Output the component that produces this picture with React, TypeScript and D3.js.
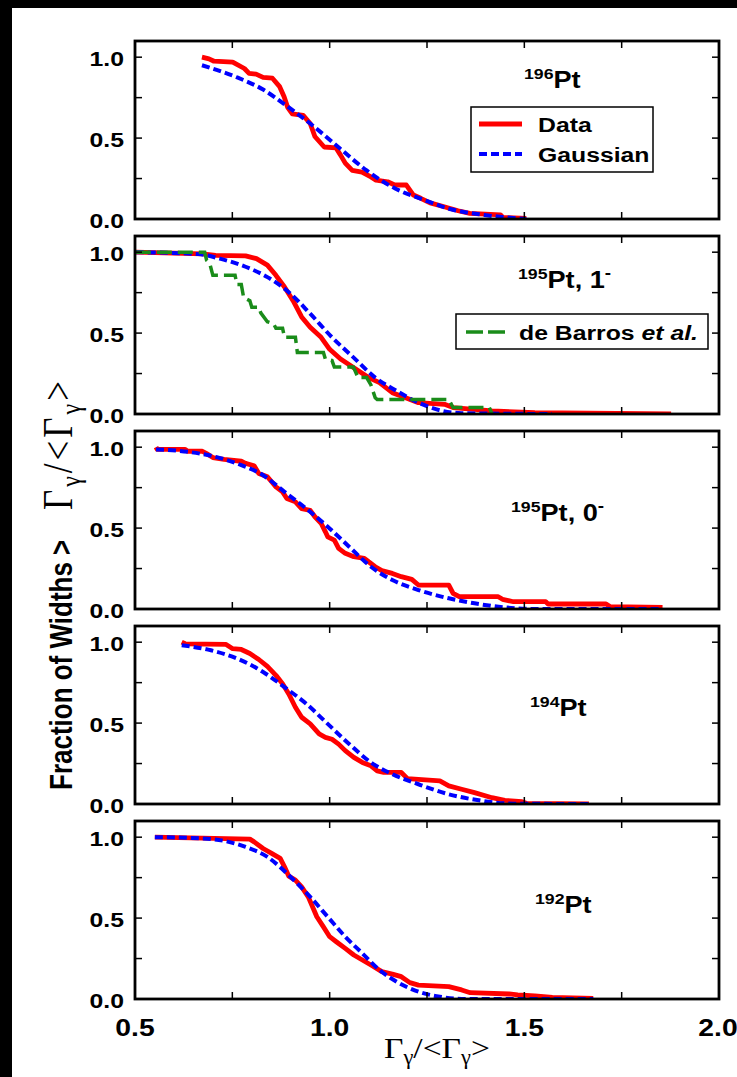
import React from 'react';
import * as d3 from 'd3';

const W = 737;
const H = 1077;
const S = 1.18; // horizontal glyph stretch seen in the reference

const xTickLabels = ['0.5', '1.0', '1.5', '2.0'];
const xTickValues = [0.5, 1.0, 1.5, 2.0];
const xMinorTicks = [0.75, 1.0, 1.25, 1.5, 1.75];
const yTickLabels = ['0.0', '0.5', '1.0'];
const yTickValues = [0.0, 0.5, 1.0];
const yMinorTicks = [0.25, 0.5, 0.75, 1.0];

const data196: [number, number][] = [[0.672,1.0],[0.69,0.99],[0.703,0.975],[0.751,0.97],[0.781,0.93],[0.793,0.90],[0.811,0.895],[0.829,0.875],[0.853,0.87],[0.871,0.82],[0.883,0.755],[0.892,0.69],[0.904,0.65],[0.932,0.64],[0.95,0.59],[0.962,0.51],[0.986,0.445],[1.016,0.44],[1.028,0.395],[1.04,0.345],[1.058,0.30],[1.083,0.29],[1.106,0.26],[1.119,0.24],[1.149,0.23],[1.167,0.21],[1.197,0.21],[1.215,0.148],[1.234,0.128],[1.258,0.10],[1.294,0.076],[1.33,0.051],[1.36,0.035],[1.439,0.025],[1.445,0.01],[1.505,0.004]];
const gauss196: [number, number][] = [[0.672,0.95],[0.757,0.88],[0.829,0.80],[0.889,0.70],[0.95,0.59],[1.022,0.445],[1.095,0.30],[1.167,0.19],[1.24,0.12],[1.312,0.06],[1.397,0.025],[1.505,0.0]];

const data195a: [number, number][] = [[0.502,1.0],[0.673,0.99],[0.707,0.98],[0.784,0.977],[0.812,0.96],[0.84,0.92],[0.862,0.857],[0.884,0.785],[0.906,0.70],[0.928,0.60],[0.95,0.536],[0.978,0.474],[1.0,0.40],[1.028,0.34],[1.061,0.288],[1.10,0.225],[1.128,0.194],[1.161,0.132],[1.195,0.10],[1.228,0.07],[1.295,0.06],[1.317,0.04],[1.417,0.019],[1.527,0.008],[1.877,0.0]];
const gauss195a: [number, number][] = [[0.502,1.0],[0.662,0.988],[0.718,0.96],[0.784,0.91],[0.84,0.846],[0.895,0.753],[0.95,0.62],[1.006,0.474],[1.061,0.35],[1.117,0.225],[1.172,0.143],[1.228,0.07],[1.283,0.023],[1.339,0.005],[1.571,0.0]];
const barros195: [number, number][] = [[0.502,1.0],[0.679,1.0],[0.684,0.95],[0.692,0.93],[0.70,0.857],[0.757,0.857],[0.762,0.80],[0.773,0.80],[0.779,0.72],[0.795,0.70],[0.80,0.66],[0.818,0.66],[0.823,0.625],[0.84,0.57],[0.856,0.557],[0.862,0.53],[0.879,0.53],[0.884,0.474],[0.912,0.474],[0.917,0.38],[0.984,0.38],[0.989,0.34],[1.006,0.33],[1.012,0.29],[1.061,0.29],[1.073,0.225],[1.095,0.225],[1.106,0.18],[1.117,0.10],[1.122,0.09],[1.306,0.09],[1.317,0.04],[1.41,0.04],[1.417,0.0]];

const data195b: [number, number][] = [[0.554,1.0],[0.557,0.986],[0.629,0.986],[0.635,0.975],[0.673,0.975],[0.684,0.96],[0.70,0.936],[0.729,0.924],[0.773,0.913],[0.784,0.90],[0.806,0.885],[0.818,0.837],[0.84,0.817],[0.851,0.786],[0.862,0.755],[0.879,0.724],[0.89,0.683],[0.912,0.662],[0.928,0.62],[0.95,0.61],[0.962,0.57],[0.978,0.53],[0.989,0.477],[0.995,0.446],[1.012,0.426],[1.023,0.375],[1.04,0.344],[1.062,0.323],[1.089,0.313],[1.10,0.292],[1.117,0.261],[1.134,0.237],[1.161,0.22],[1.184,0.20],[1.211,0.183],[1.228,0.148],[1.306,0.148],[1.317,0.097],[1.333,0.076],[1.433,0.076],[1.444,0.06],[1.472,0.045],[1.555,0.045],[1.561,0.031],[1.71,0.031],[1.721,0.014],[1.855,0.01]];
const gauss195b: [number, number][] = [[0.554,0.986],[0.64,0.97],[0.707,0.94],[0.773,0.889],[0.829,0.827],[0.884,0.724],[0.94,0.62],[0.995,0.508],[1.05,0.385],[1.106,0.261],[1.161,0.179],[1.228,0.117],[1.306,0.066],[1.372,0.035],[1.45,0.01],[1.527,0.0],[1.855,0.0]];

const data194: [number, number][] = [[0.62,1.0],[0.629,0.99],[0.734,0.986],[0.751,0.96],[0.773,0.955],[0.795,0.93],[0.818,0.893],[0.84,0.85],[0.862,0.795],[0.879,0.743],[0.895,0.68],[0.912,0.598],[0.928,0.536],[0.95,0.495],[0.973,0.433],[0.989,0.412],[1.006,0.40],[1.023,0.37],[1.04,0.33],[1.062,0.288],[1.084,0.257],[1.106,0.236],[1.122,0.205],[1.139,0.195],[1.184,0.195],[1.20,0.157],[1.283,0.143],[1.306,0.112],[1.339,0.091],[1.372,0.07],[1.417,0.039],[1.45,0.023],[1.494,0.014],[1.505,0.004],[1.666,0.0]];
const gauss194: [number, number][] = [[0.62,0.981],[0.695,0.95],[0.773,0.888],[0.829,0.816],[0.884,0.722],[0.94,0.619],[0.995,0.495],[1.05,0.371],[1.106,0.257],[1.161,0.184],[1.228,0.122],[1.306,0.06],[1.383,0.023],[1.472,0.002],[1.666,0.0]];

const data192: [number, number][] = [[0.551,1.0],[0.795,0.988],[0.806,0.971],[0.829,0.93],[0.851,0.90],[0.873,0.869],[0.884,0.817],[0.895,0.759],[0.912,0.735],[0.928,0.693],[0.945,0.631],[0.956,0.57],[0.967,0.508],[0.984,0.446],[1.0,0.385],[1.017,0.354],[1.04,0.313],[1.062,0.272],[1.084,0.241],[1.106,0.21],[1.134,0.169],[1.161,0.154],[1.184,0.138],[1.206,0.101],[1.228,0.086],[1.306,0.076],[1.339,0.056],[1.361,0.039],[1.461,0.031],[1.483,0.025],[1.527,0.019],[1.572,0.01],[1.677,0.004]];
const gauss192: [number, number][] = [[0.551,1.0],[0.673,0.992],[0.729,0.977],[0.784,0.94],[0.84,0.878],[0.895,0.765],[0.95,0.631],[0.995,0.508],[1.04,0.385],[1.084,0.282],[1.128,0.179],[1.172,0.107],[1.228,0.045],[1.283,0.014],[1.35,0.0],[1.677,0.0]];

const panelMass = ['196', '195', '195', '194', '192'];
const panelSuffix = ['', ', 1', ', 0', '', ''];
const panelSuffixSup = ['', '-', '-', '', ''];
const panelData = [data196, data195a, data195b, data194, data192];
const panelGauss = [gauss196, gauss195a, gauss195b, gauss194, gauss192];
const panelLabelPos: [number, number][] = [[524, 88], [518, 288], [511, 521], [530, 716], [535, 913]];

const legendLabels = ['Data', 'Gaussian', 'de Barros '];

const FONT = "'Liberation Sans', Arial, Helvetica, sans-serif";
const SERIF = "'Liberation Serif', 'Times New Roman', serif";
const RED = '#ff0000';
const BLUE = '#0000ff';
const GREEN = '#1a8c1a';

const x = d3.scaleLinear().domain([0.5, 2.0]).range([135, 719]);
const panelTop = (i: number) => 41 + i * 195;
const PH = 178;

function Panel({ i }: { i: number }) {
  const top = panelTop(i);
  const y = d3.scaleLinear().domain([0, 1.1]).range([top + PH, top]);
  const line = d3.line<[number, number]>().x(d => x(d[0])).y(d => y(d[1]));
  const smooth = d3.line<[number, number]>().x(d => x(d[0])).y(d => y(d[1])).curve(d3.curveMonotoneX);
  const clipId = `clip${i}`;
  const [lx, ly] = panelLabelPos[i];
  return (
    <g>
      <defs>
        <clipPath id={clipId}>
          <rect x={x(0.5)} y={top} width={x(2.0) - x(0.5)} height={PH} />
        </clipPath>
      </defs>
      <g clipPath={`url(#${clipId})`}>
        <path d={line(panelData[i]) || ''} fill="none" stroke={RED} strokeWidth={4.8} strokeLinejoin="round" />
        <path d={smooth(panelGauss[i]) || ''} fill="none" stroke={BLUE} strokeWidth={4} strokeDasharray="8,4" />
        {i === 1 && (
          <path d={line(barros195) || ''} fill="none" stroke={GREEN} strokeWidth={3.5} strokeDasharray="15,6" />
        )}
      </g>
      {xMinorTicks.map(t => (
        <g key={'xt' + t}>
          <line x1={x(t)} x2={x(t)} y1={top} y2={top + 7} stroke="#000" strokeWidth={1.5} />
          <line x1={x(t)} x2={x(t)} y1={top + PH} y2={top + PH - 7} stroke="#000" strokeWidth={1.5} />
        </g>
      ))}
      {yMinorTicks.map(t => (
        <g key={'yt' + t}>
          <line x1={x(0.5)} x2={x(0.5) + 7} y1={y(t)} y2={y(t)} stroke="#000" strokeWidth={1.5} />
          <line x1={x(2.0)} x2={x(2.0) - 7} y1={y(t)} y2={y(t)} stroke="#000" strokeWidth={1.5} />
        </g>
      ))}
      <rect x={x(0.5)} y={top} width={x(2.0) - x(0.5)} height={PH} fill="none" stroke="#000" strokeWidth={2.8} />
      {yTickValues.map((v, k) => (
        <text key={'yl' + k} transform={`translate(124,${y(v) + 9}) scale(${S},1)`} textAnchor="end"
          fontFamily={FONT} fontWeight="bold" fontSize={21} fill="#000">{yTickLabels[k]}</text>
      ))}
      <text transform={`translate(${lx},${ly}) scale(${S},1)`} fontFamily={FONT} fontWeight="bold" fill="#000">
        <tspan fontSize={15} dy={-9}>{panelMass[i]}</tspan>
        <tspan fontSize={23} dy={9}>{'Pt' + panelSuffix[i]}</tspan>
        {panelSuffixSup[i] && <tspan fontSize={16} dy={-10}>{panelSuffixSup[i]}</tspan>}
      </text>
      {i === 0 && (
        <g>
          <rect x={471} y={107} width={182} height={65} fill="#fff" stroke="#000" strokeWidth={1.5} />
          <line x1={479} x2={522} y1={124} y2={124} stroke={RED} strokeWidth={5} />
          <line x1={479} x2={522} y1={154} y2={154} stroke={BLUE} strokeWidth={4} strokeDasharray="8,4" />
          <text transform={`translate(538,132) scale(${S},1)`} fontFamily={FONT} fontWeight="bold" fontSize={21}>{legendLabels[0]}</text>
          <text transform={`translate(538,162) scale(${S},1)`} fontFamily={FONT} fontWeight="bold" fontSize={21}>{legendLabels[1]}</text>
        </g>
      )}
      {i === 1 && (
        <g>
          <rect x={456} y={314} width={252} height={35} fill="#fff" stroke="#000" strokeWidth={1.5} />
          <line x1={466} x2={505} y1={332} y2={332} stroke={GREEN} strokeWidth={3.5} strokeDasharray="17,5" />
          <text transform={`translate(519,340) scale(${S},1)`} fontFamily={FONT} fontWeight="bold" fontSize={21}>
            {legendLabels[2]}<tspan fontStyle="italic">et al.</tspan>
          </text>
        </g>
      )}
    </g>
  );
}

export default function App() {
  const panels = [0, 1, 2, 3, 4];
  const bottom = panelTop(4) + PH;
  return (
    <div style={{ position: 'absolute', left: 0, top: 0 }}>
      <svg width={W} height={H} viewBox={`0 0 ${W} ${H}`} style={{ display: 'block' }}>
        <rect x={0} y={0} width={W} height={H} fill="#000" />
        <rect x={12} y={8} width={W - 12} height={H - 8} fill="#fff" />
        {panels.map(i => <Panel key={i} i={i} />)}
        {xTickValues.map((v, k) => (
          <text key={'xl' + k} transform={`translate(${x(v) - (k === 3 ? 1 : 0)},${bottom + 37}) scale(${S},1)`} textAnchor="middle"
            fontFamily={FONT} fontWeight="bold" fontSize={24} fill="#000">{xTickLabels[k]}</text>
        ))}
        <text transform={`translate(384,1058) scale(1.12,1)`} fontFamily={SERIF} fontSize={30} fill="#000">
          Γ<tspan fontSize={20} dy={6}>γ</tspan><tspan dy={-6}>/&lt;Γ</tspan><tspan fontSize={20} dy={6}>γ</tspan><tspan dy={-6}>&gt;</tspan>
        </text>
        <g transform={`translate(72,0) scale(${S},1) rotate(-90)`}>
          <text x={-790} y={0} fontFamily={FONT} fontWeight="bold" fontSize={26} fill="#000">Fraction of Widths &gt;</text>
          <text x={-510} y={0} fontFamily={SERIF} fontSize={35} fill="#000" letterSpacing={3}>
            Γ<tspan fontSize={24} dy={7}>γ</tspan><tspan dy={-7}>/&lt;Γ</tspan><tspan fontSize={24} dy={7}>γ</tspan><tspan dy={-7}>&gt;</tspan>
          </text>
        </g>
      </svg>
    </div>
  );
}
